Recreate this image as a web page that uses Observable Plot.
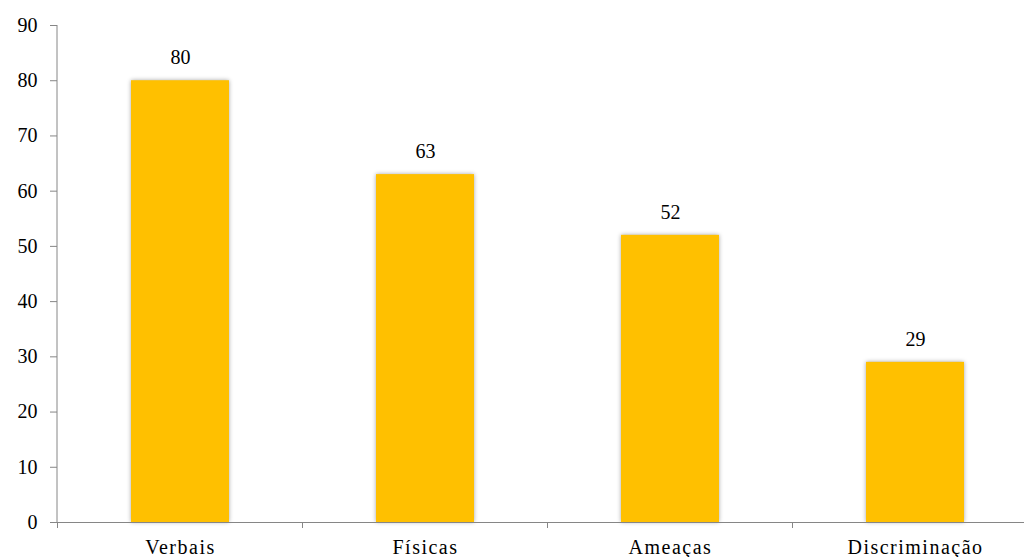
<!DOCTYPE html>
<html>
<head>
<meta charset="utf-8">
<script src="https://cdn.jsdelivr.net/npm/d3@7"></script>
<script src="https://cdn.jsdelivr.net/npm/@observablehq/plot@0.6"></script>
<style>
  html, body { margin: 0; padding: 0; background: #fff; overflow: hidden; }
  #wrap { width: 1024px; height: 557px; overflow: hidden; }
  #wrap svg { overflow: visible; max-width: none !important; }
  g[aria-label="bar"] { filter: drop-shadow(0 0 2px rgba(0,0,0,0.35)); }
</style>
</head>
<body>
<div id="wrap"></div>
<script>
const categories = ["Verbais", "Físicas", "Ameaças", "Discriminação"];
const values = [80, 63, 52, 29];
const yTicks = [0, 10, 20, 30, 40, 50, 60, 70, 80, 90];

const data = categories.map((c, i) => ({category: c, value: values[i]}));

const font = "Times New Roman, Liberation Serif, Tinos, DejaVu Serif, serif";

// y-axis line and x tick marks at category band boundaries, from the scales/layout
function axisLines(index, scales, values, dimensions) {
  const x = scales.x;
  const step = x(categories[1]) - x(categories[0]);
  const bw = x.bandwidth ? x.bandwidth() : step * 0.4;
  const off = (step - bw) / 2;
  const y0 = dimensions.height - dimensions.marginBottom;
  const g = d3.create("svg:g");
  g.append("line")
    .attr("x1", dimensions.marginLeft).attr("x2", dimensions.marginLeft)
    .attr("y1", scales.y(yTicks[yTicks.length - 1])).attr("y2", y0)
    .attr("stroke", "#868686").attr("stroke-width", 1);
  categories.forEach(c => {
    const bx = x(c) - off;
    g.append("line")
      .attr("x1", bx).attr("x2", bx)
      .attr("y1", y0).attr("y2", y0 + 6)
      .attr("stroke", "#868686").attr("stroke-width", 1);
  });
  return g.node();
}

const chart = Plot.plot({
  width: 1037,
  height: 557,
  marginLeft: 57,
  marginRight: 0,
  marginTop: 25,
  marginBottom: 35,
  style: {fontFamily: font, fontSize: "20px", color: "#000", background: "#fff", maxWidth: "none"},
  x: {domain: categories, paddingInner: 0.6, paddingOuter: 0.3, label: null},
  y: {domain: [0, 90], label: null},
  marks: [
    Plot.barY(data, {x: "category", y: "value", fill: "#FFC000"}),
    Plot.ruleY([0], {stroke: "#868686", strokeWidth: 1}),
    Plot.axisY({ticks: yTicks, tickSize: 7, tickPadding: 13, stroke: "#868686", strokeOpacity: 1, label: null, fill: "#000", fontSize: 20}),
    Plot.axisX({tickSize: 0, tickPadding: 17, label: null, fill: "#000", fontSize: 20}),
    axisLines,
    Plot.text(data, {x: "category", y: "value", text: d => String(d.value), dy: -23, fontSize: 20, fill: "#000"})
  ]
});

chart.setAttribute("font-family", font);
chart.style.fontFamily = font;
chart.querySelectorAll("g, text").forEach(el => {
  if (el.hasAttribute("font-family") || el.tagName === "text") el.setAttribute("font-family", font);
});
chart.querySelectorAll('g[aria-label="x-axis tick label"] text').forEach(t => t.setAttribute("letter-spacing", "1.5"));

document.getElementById("wrap").appendChild(chart);
</script>
</body>
</html>
